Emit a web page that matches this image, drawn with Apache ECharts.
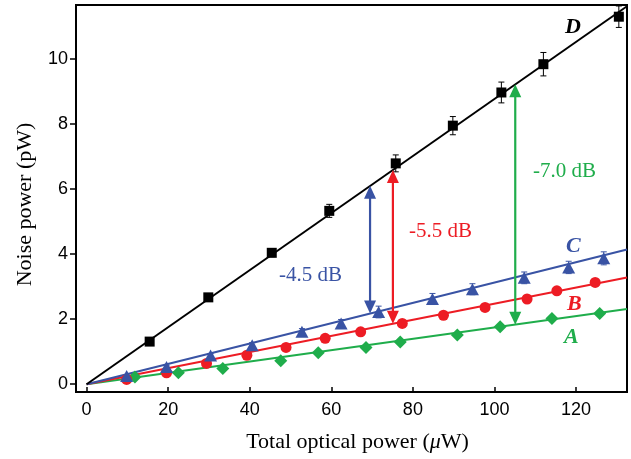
<!DOCTYPE html>
<html>
<head>
<meta charset="utf-8">
<script src="https://cdn.jsdelivr.net/npm/echarts@6/dist/echarts.min.js"></script>
<style>
  html, body { margin: 0; padding: 0; background: #fff; }
  #chart { width: 631px; height: 459px; }
</style>
</head>
<body>
<div id="chart"></div>
<script>
// ticks
const xTicks = [0, 20, 40, 60, 80, 100, 120];
const yTicks = [0, 2, 4, 6, 8, 10];

// D: black squares (with error bars)
const dX = [15.46, 29.84, 45.4, 59.5, 75.8, 89.8, 101.7, 112.0, 130.5];
const dY = [1.31, 2.67, 4.04, 5.33, 6.79, 7.95, 8.97, 9.84, 11.30];
const dErr = [0.04, 0.05, 0.12, 0.2, 0.26, 0.28, 0.32, 0.36, 0.33];

// C: blue triangles
const cX = [9.82, 19.6, 30.4, 40.6, 52.8, 62.4, 71.6, 84.8, 94.6, 107.3, 118.2, 126.8];
const cY = [0.255, 0.53, 0.88, 1.2, 1.61, 1.87, 2.22, 2.62, 2.92, 3.27, 3.59, 3.87];
const cErr = [0.03, 0.05, 0.06, 0.08, 0.1, 0.12, 0.18, 0.17, 0.17, 0.18, 0.19, 0.2];

// B: red circles
const bX = [9.82, 19.6, 29.4, 39.3, 48.9, 58.5, 67.2, 77.4, 87.5, 97.7, 108.0, 115.3, 124.7];
const bY = [0.145, 0.35, 0.64, 0.89, 1.13, 1.41, 1.61, 1.87, 2.12, 2.36, 2.62, 2.87, 3.13];

// A: green diamonds
const aX = [11.85, 22.5, 33.4, 47.6, 56.8, 68.5, 76.9, 90.9, 101.4, 114.1, 125.8];
const aY = [0.225, 0.35, 0.48, 0.72, 0.97, 1.13, 1.30, 1.51, 1.77, 2.02, 2.17];

// fitted lines, from origin to right edge (A, B, C, D)
const fitEndX = 132.5;
const fitEndY = [2.31, 3.28, 4.14, 11.62];

// suppression arrows (blue, red, green)
const arrowX = [69.5, 75.1, 105.1];
const arrowTop = [6.1, 6.59, 9.22];
const arrowBottom = [2.17, 1.86, 1.83];
const arrowText = ['-4.5 dB', '-5.5 dB', '-7.0 dB'];

const BLACK = '#000', BLUE = '#3953a4', RED = '#ed1c24', GREEN = '#1fad4b';
const colors = [GREEN, RED, BLUE, BLACK];
const arrowColors = [BLUE, RED, GREEN];

const zip = (xs, ys) => xs.map((x, i) => [x, ys[i]]);
const serif = '"Liberation Serif", "Times New Roman", serif';
const sans = '"Liberation Sans", Arial, sans-serif';

function errorBars(xs, ys, errs, color) {
  return {
    type: 'custom',
    z: 3,
    data: xs.map((x, i) => [x, ys[i] - errs[i], ys[i] + errs[i]]),
    renderItem: (params, api) => {
      const lo = api.coord([api.value(0), api.value(1)]);
      const hi = api.coord([api.value(0), api.value(2)]);
      const st = { stroke: color, lineWidth: 1 };
      return {
        type: 'group',
        children: [
          { type: 'line', shape: { x1: lo[0], y1: lo[1], x2: hi[0], y2: hi[1] }, style: st },
          { type: 'line', shape: { x1: lo[0] - 3, y1: lo[1], x2: lo[0] + 3, y2: lo[1] }, style: st },
          { type: 'line', shape: { x1: hi[0] - 3, y1: hi[1], x2: hi[0] + 3, y2: hi[1] }, style: st },
        ],
      };
    },
  };
}

const arrowSeries = {
  type: 'custom',
  z: 6,
  data: arrowX.map((x, i) => [x, arrowTop[i], arrowBottom[i], i]),
  renderItem: (params, api) => {
    const top = api.coord([api.value(0), api.value(1)]);
    const bot = api.coord([api.value(0), api.value(2)]);
    const color = arrowColors[api.value(3)];
    const w = 6, h = 13;
    return {
      type: 'group',
      children: [
        { type: 'line', shape: { x1: top[0], y1: top[1] + h - 1, x2: bot[0], y2: bot[1] - h + 1 },
          style: { stroke: color, lineWidth: 2.2 } },
        { type: 'polygon', shape: { points: [[top[0], top[1]], [top[0] - w, top[1] + h], [top[0] + w, top[1] + h]] },
          style: { fill: color } },
        { type: 'polygon', shape: { points: [[bot[0], bot[1]], [bot[0] - w, bot[1] - h], [bot[0] + w, bot[1] - h]] },
          style: { fill: color } },
      ],
    };
  },
};

const fitLines = fitEndY.map((y, i) => ({
  type: 'line',
  z: 2,
  data: [[0, 0], [fitEndX, y]],
  symbol: 'none',
  lineStyle: { color: colors[i], width: 2 },
  silent: true,
}));

function scatter(xs, ys, symbol, size, color) {
  return {
    type: 'scatter',
    z: 4,
    data: zip(xs, ys),
    symbol,
    symbolSize: size,
    itemStyle: { color, opacity: 1 },
  };
}

const chart = echarts.init(document.getElementById('chart'));
chart.setOption({
  animation: false,
  backgroundColor: '#fff',
  grid: { left: 76, right: 4, top: 5, bottom: 67, show: true, borderColor: '#000', borderWidth: 2 },
  xAxis: {
    type: 'value',
    min: -2.6,
    max: 132.5,
    name: 'Total optical power ({i|μ}W)',
    nameLocation: 'middle',
    nameGap: 39,
    nameTextStyle: {
      fontFamily: serif, fontSize: 22, color: '#000', padding: [0, 0, 0, 12],
      rich: { i: { fontFamily: serif, fontSize: 22, fontStyle: 'italic', color: '#000' } },
    },
    axisLine: { onZero: false, lineStyle: { color: '#000', width: 2 } },
    axisTick: { inside: true, length: 5, customValues: xTicks, lineStyle: { color: '#000', width: 1.5 } },
    axisLabel: { customValues: xTicks, margin: 9, fontFamily: sans, fontSize: 18, color: '#000' },
    splitLine: { show: false },
  },
  yAxis: {
    type: 'value',
    min: -0.24,
    max: 11.66,
    name: 'Noise power (pW)',
    nameLocation: 'middle',
    nameGap: 40,
    nameTextStyle: { fontFamily: serif, fontSize: 22, color: '#000', padding: [0, 0, 0, -12] },
    axisLine: { onZero: false, lineStyle: { color: '#000', width: 2 } },
    axisTick: { length: 6, customValues: yTicks, lineStyle: { color: '#000', width: 1.5 } },
    axisLabel: { customValues: yTicks, margin: 8, fontFamily: sans, fontSize: 18, color: '#000' },
    splitLine: { show: false },
  },
  series: [
    ...fitLines,
    errorBars(dX, dY, dErr, BLACK),
    errorBars(cX, cY, cErr, BLUE),
    scatter(aX, aY, 'diamond', [13, 13], GREEN),
    scatter(bX, bY, 'circle', 11, RED),
    scatter(cX, cY, 'triangle', [13, 12], BLUE),
    scatter(dX, dY, 'rect', 10, BLACK),
    arrowSeries,
  ],
  graphic: [
    { type: 'text', left: 565, top: 16, style: { text: 'D', fill: BLACK, font: `italic bold 22px ${serif}` } },
    { type: 'text', left: 566, top: 235, style: { text: 'C', fill: BLUE, font: `italic bold 22px ${serif}` } },
    { type: 'text', left: 567, top: 293, style: { text: 'B', fill: RED, font: `italic bold 22px ${serif}` } },
    { type: 'text', left: 564, top: 326, style: { text: 'A', fill: GREEN, font: `italic bold 22px ${serif}` } },
    { type: 'text', left: 279, top: 265, style: { text: arrowText[0], fill: BLUE, font: `21px ${serif}` } },
    { type: 'text', left: 409, top: 221, style: { text: arrowText[1], fill: RED, font: `21px ${serif}` } },
    { type: 'text', left: 533, top: 161, style: { text: arrowText[2], fill: GREEN, font: `21px ${serif}` } },
  ],
});
</script>
</body>
</html>
